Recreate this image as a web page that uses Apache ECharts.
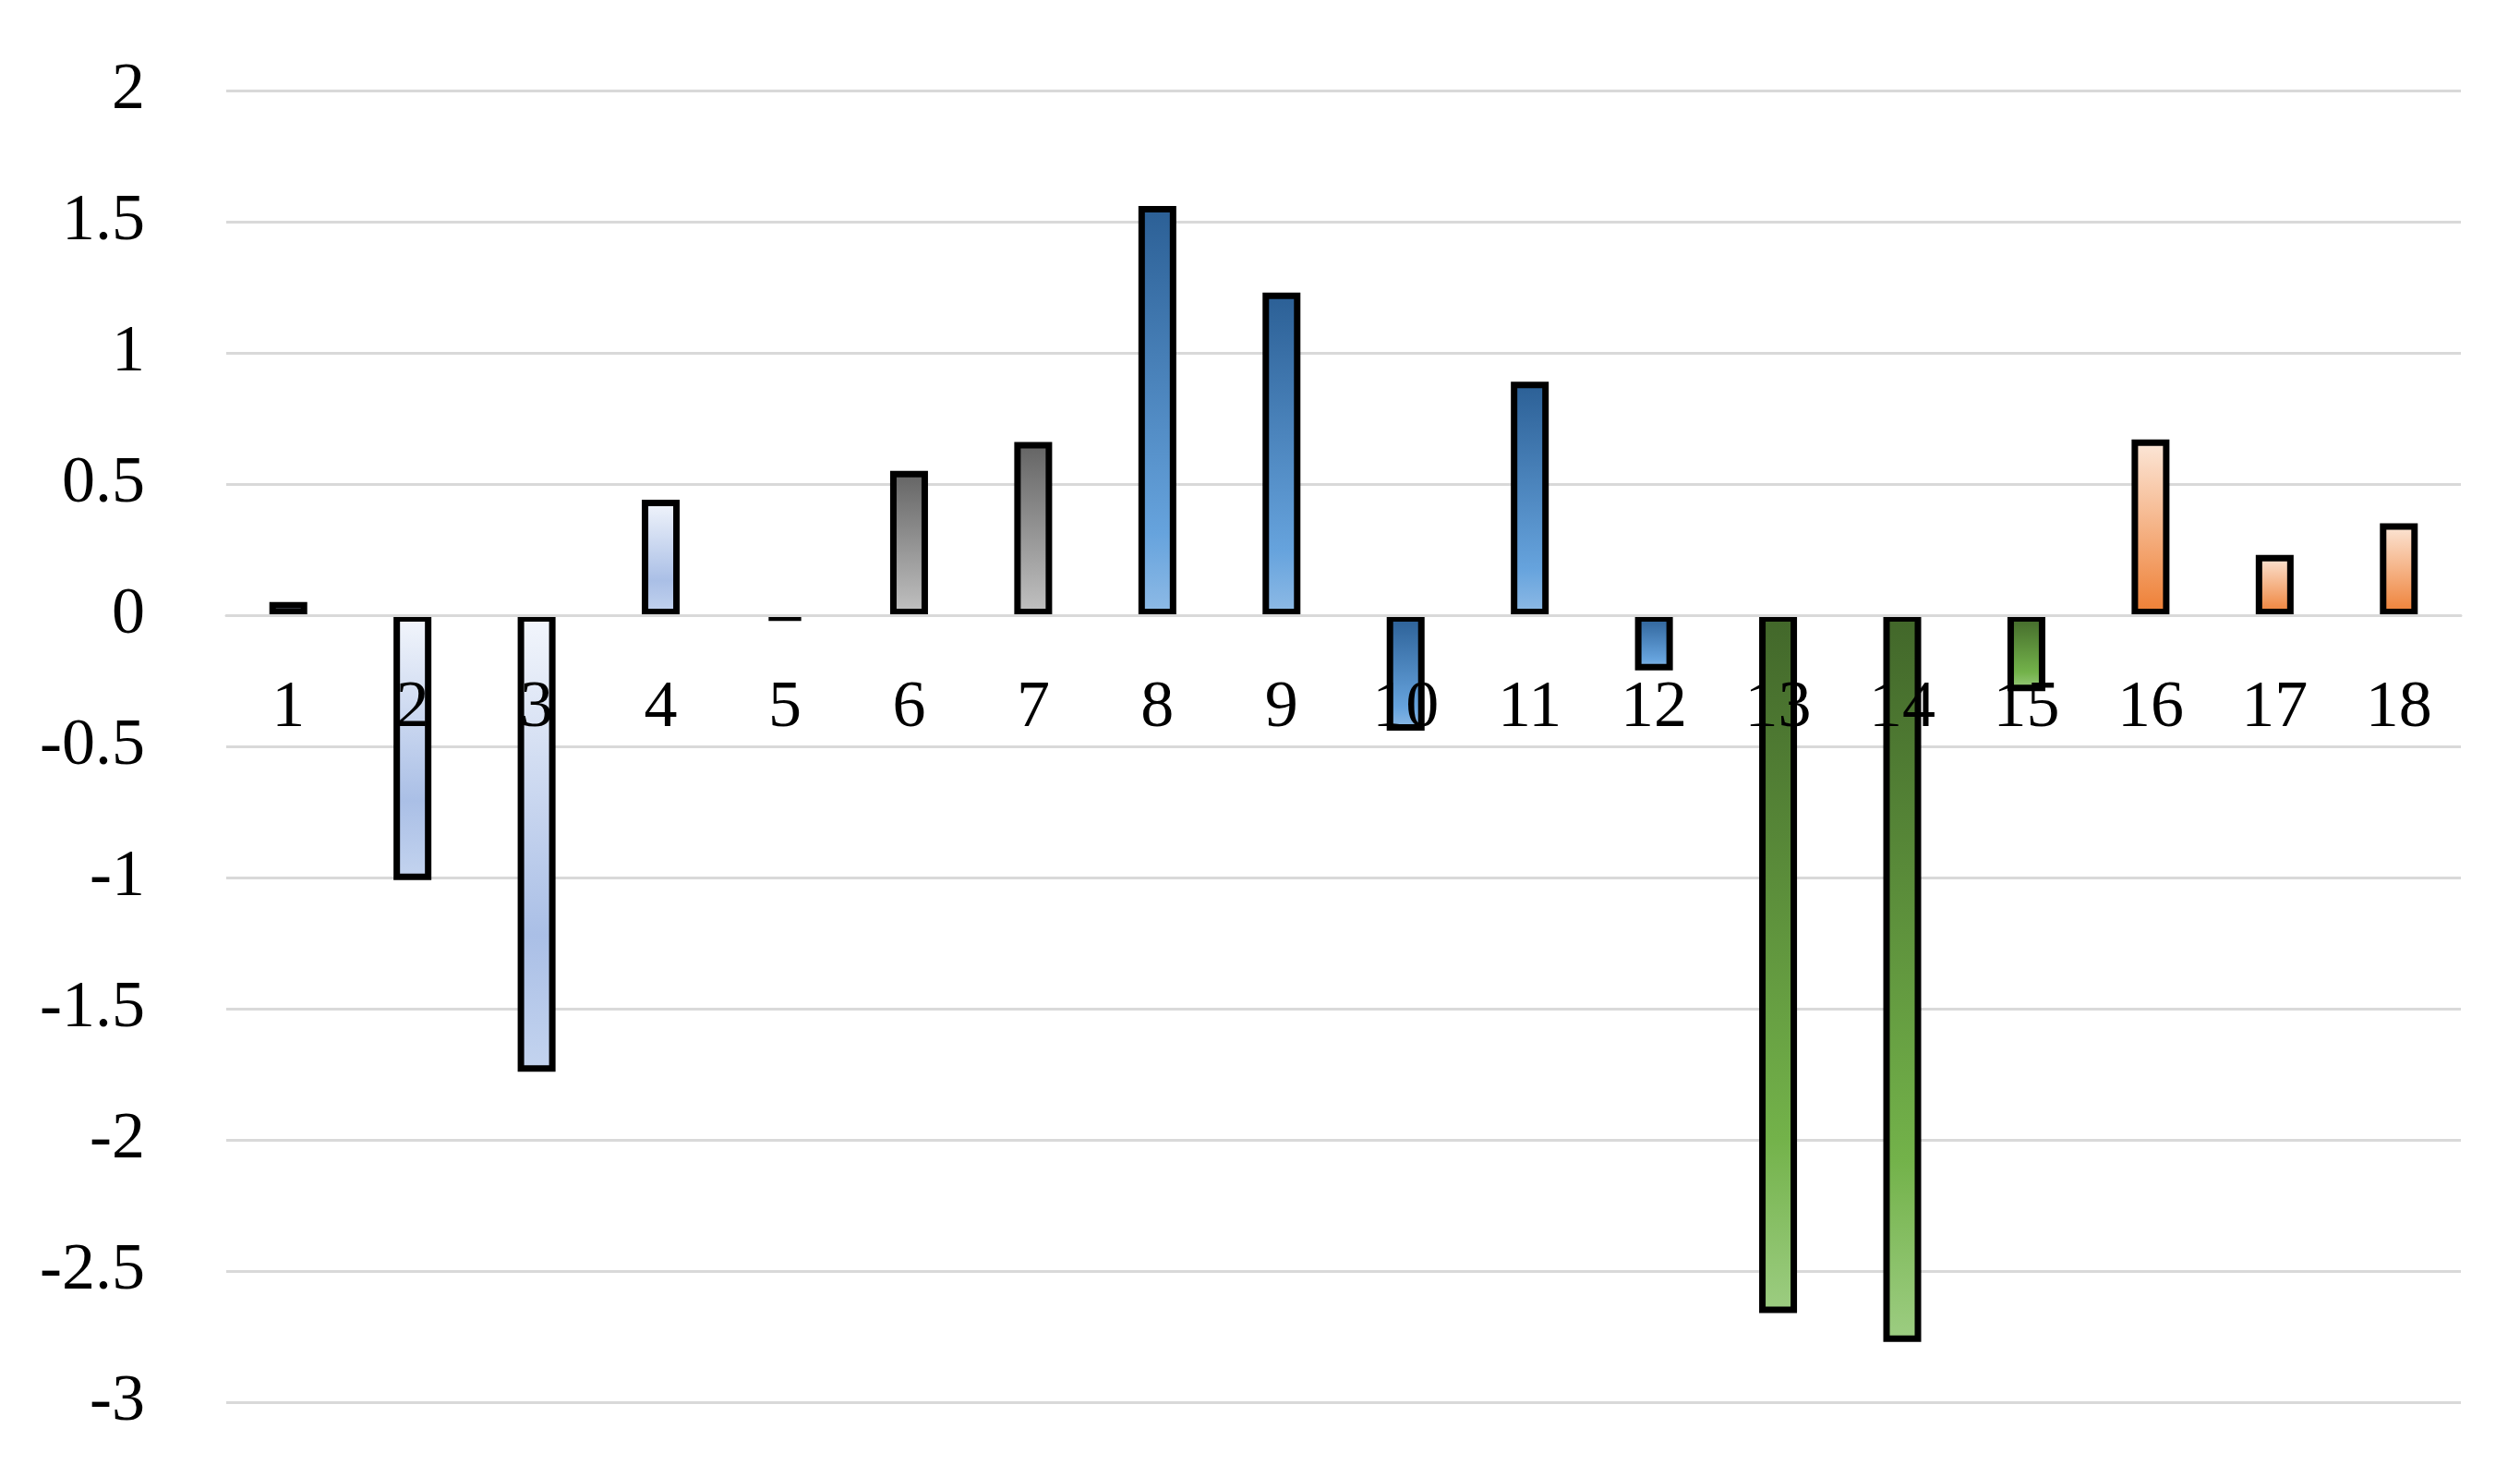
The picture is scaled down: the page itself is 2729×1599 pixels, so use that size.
<!DOCTYPE html>
<html>
<head>
<meta charset="utf-8">
<script src="https://cdn.jsdelivr.net/npm/echarts@6/dist/echarts.min.js"></script>
<style>
  html, body { margin: 0; padding: 0; background: #fff; }
  #chart { width: 2729px; height: 1599px; }
</style>
</head>
<body>
<div id="chart"></div>
<script>
// categories and values
const categories = ['1', '2', '3', '4', '5', '6', '7', '8', '9', '10', '11', '12', '13', '14', '15', '16', '17', '18']
const values = [0.05, -1.01, -1.74, 0.44, -0.02, 0.55, 0.66, 1.56, 1.23, -0.44, 0.89, -0.21, -2.66, -2.77, -0.29, 0.67, 0.23, 0.35]
const yTicks = { min: -3, max: 2, step: 0.5 }

// gradient stops, top -> bottom of each bar
const palettes = {
  lightBlue: [[0, '#f3f6fc'], [0.7, '#aabfe6'], [1, '#c4d4ef']],
  gray: [[0, '#636363'], [1, '#c2c2c2']],
  blue: [[0, '#2b5f95'], [0.8, '#66a3dd'], [1, '#8fbbe6']],
  green: [[0, '#42672a'], [0.75, '#73b24a'], [1, '#9dcd82']],
  orange: [[0, '#fce8da'], [1, '#ee7e33']]
}

function paletteFor (i) {
  if (i < 5) return palettes.lightBlue
  if (i < 7) return palettes.gray
  if (i < 12) return palettes.blue
  if (i < 15) return palettes.green
  return palettes.orange
}

function grad (stops) {
  return new echarts.graphic.LinearGradient(0, 0, 0, 1,
    stops.map(function (s) { return { offset: s[0], color: s[1] } }))
}

const font = '"Liberation Serif", "DejaVu Serif", serif'
const gridColor = '#d9d9d9'
const gridTop = 98
const gridBottom = 81
const chartH = 1599

// category axis sits on the zero line: shift it up from the grid bottom
const plotH = chartH - gridTop - gridBottom
const zeroShift = plotH * (0 - yTicks.min) / (yTicks.max - yTicks.min)

const chart = echarts.init(document.getElementById('chart'))
chart.setOption({
  animation: false,
  backgroundColor: '#fff',
  grid: { left: 245, right: 64, top: gridTop, bottom: gridBottom, containLabel: false, outerBoundsMode: 'none' },
  xAxis: {
    type: 'category',
    data: categories,
    z: 10,
    offset: -zeroShift,
    axisLine: { show: true, onZero: false, lineStyle: { color: gridColor, width: 3 } },
    axisTick: { show: false },
    axisLabel: { margin: 65, fontSize: 72, fontFamily: font, color: '#000' }
  },
  yAxis: {
    type: 'value',
    min: yTicks.min,
    max: yTicks.max,
    interval: yTicks.step,
    axisLine: { show: false, onZero: false },
    axisTick: { show: false },
    splitLine: { lineStyle: { color: gridColor, width: 3 } },
    axisLabel: { margin: 88, fontSize: 72, fontFamily: font, color: '#000' }
  },
  series: [{
    type: 'bar',
    barWidth: 41,
    data: values.map(function (v, i) {
      return {
        value: v,
        itemStyle: { color: grad(paletteFor(i)) }
      }
    }),
    itemStyle: { borderColor: '#000', borderWidth: 7 }
  }]
})
</script>
</body>
</html>
